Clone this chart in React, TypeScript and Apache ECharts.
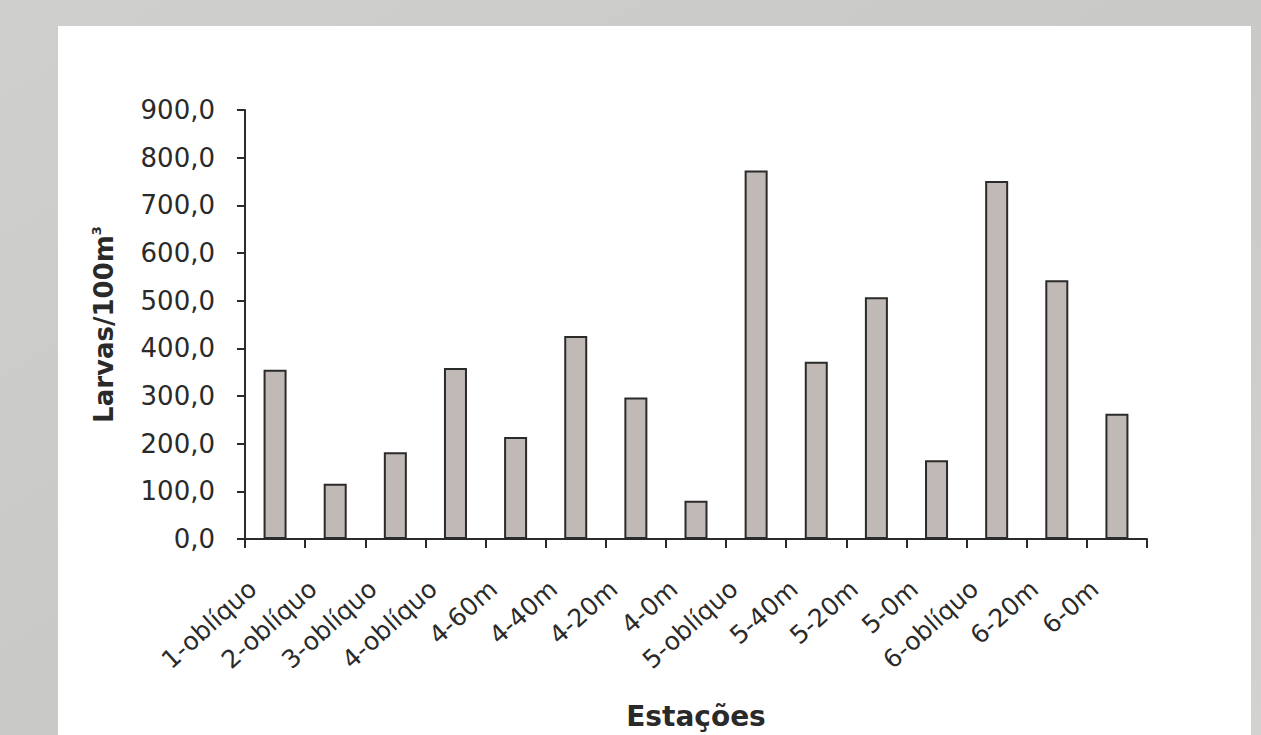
import React, { useEffect, useRef } from "react";
import * as echarts from "echarts";

const categories = [
  "1-oblíquo", "2-oblíquo", "3-oblíquo", "4-oblíquo", "4-60m", "4-40m", "4-20m", "4-0m",
  "5-oblíquo", "5-40m", "5-20m", "5-0m", "6-oblíquo", "6-20m", "6-0m",
];
const larvae = [355, 116, 182, 359, 214, 426, 297, 80, 773, 372, 507, 165, 751, 543, 263];
const yTicks = { min: 0, max: 900, interval: 100 };
const xTitle = "Estações";
const yTitle = "Larvas/100m";

export default function App() {
  const ref = useRef<HTMLDivElement>(null);
  useEffect(() => {
    document.body.style.margin = "0";
    const chart = echarts.init(ref.current!, null, { renderer: "svg" });
    const font = "'DejaVu Sans', sans-serif";
    chart.setOption({
      animation: false,
      backgroundColor: {
        type: "linear", x: 0, y: 0, x2: 1, y2: 1,
        colorStops: [
          { offset: 0, color: "#cfcfcd" },
          { offset: 0.5, color: "#c9cac8" },
          { offset: 1, color: "#d2d3d1" },
        ],
      },
      graphic: [
        {
          type: "rect",
          z: -10,
          shape: { x: 58, y: 26, width: 1193, height: 720 },
          style: { fill: "#ffffff" },
          silent: true,
        },
      ],
      grid: { left: 245, right: 114, top: 110, bottom: 195, containLabel: false },
      xAxis: {
        type: "category",
        data: categories,
        boundaryGap: true,
        name: xTitle,
        nameLocation: "middle",
        nameGap: 163,
        nameTextStyle: { fontFamily: font, fontWeight: "bold", fontSize: 28, color: "#2a2a2a" },
        axisLine: { lineStyle: { color: "#2b2b2b", width: 2 } },
        axisTick: { show: true, length: 9, lineStyle: { color: "#2b2b2b", width: 2 }, alignWithLabel: false },
        axisLabel: {
          interval: 0, rotate: 42, margin: 26, padding: [0, 30, 0, 0],
          fontFamily: font, fontSize: 25, color: "#2a2a2a",
        },
        splitLine: { show: false },
      },
      yAxis: {
        type: "value",
        min: yTicks.min,
        max: yTicks.max,
        interval: yTicks.interval,
        name: `${yTitle}{sup|3}`,
        nameLocation: "middle",
        nameRotate: 90,
        nameGap: 128,
        nameTextStyle: {
          fontFamily: font, fontWeight: "bold", fontSize: 26, color: "#2a2a2a",
          rich: { sup: { fontFamily: font, fontWeight: "bold", fontSize: 13, color: "#2a2a2a", verticalAlign: "top", padding: [0, 0, 14, 0] } },
        },
        axisLine: { show: true, lineStyle: { color: "#2b2b2b", width: 2 } },
        axisTick: { show: true, length: 8, lineStyle: { color: "#2b2b2b", width: 2 } },
        axisLabel: {
          margin: 30,
          fontFamily: font,
          fontSize: 26,
          color: "#2a2a2a",
          formatter: (v: number) => v.toFixed(1).replace(".", ","),
        },
        splitLine: { show: false },
      },
      series: [
        {
          type: "bar",
          data: larvae,
          barWidth: 23,
          itemStyle: { color: "#c1b9b6", borderColor: "#2b2b2b", borderWidth: 2 },
        },
      ],
    });
    return () => chart.dispose();
  }, []);
  return <div ref={ref} style={{ width: 1261, height: 735, position: "absolute", left: 0, top: 0 }} />;
}
